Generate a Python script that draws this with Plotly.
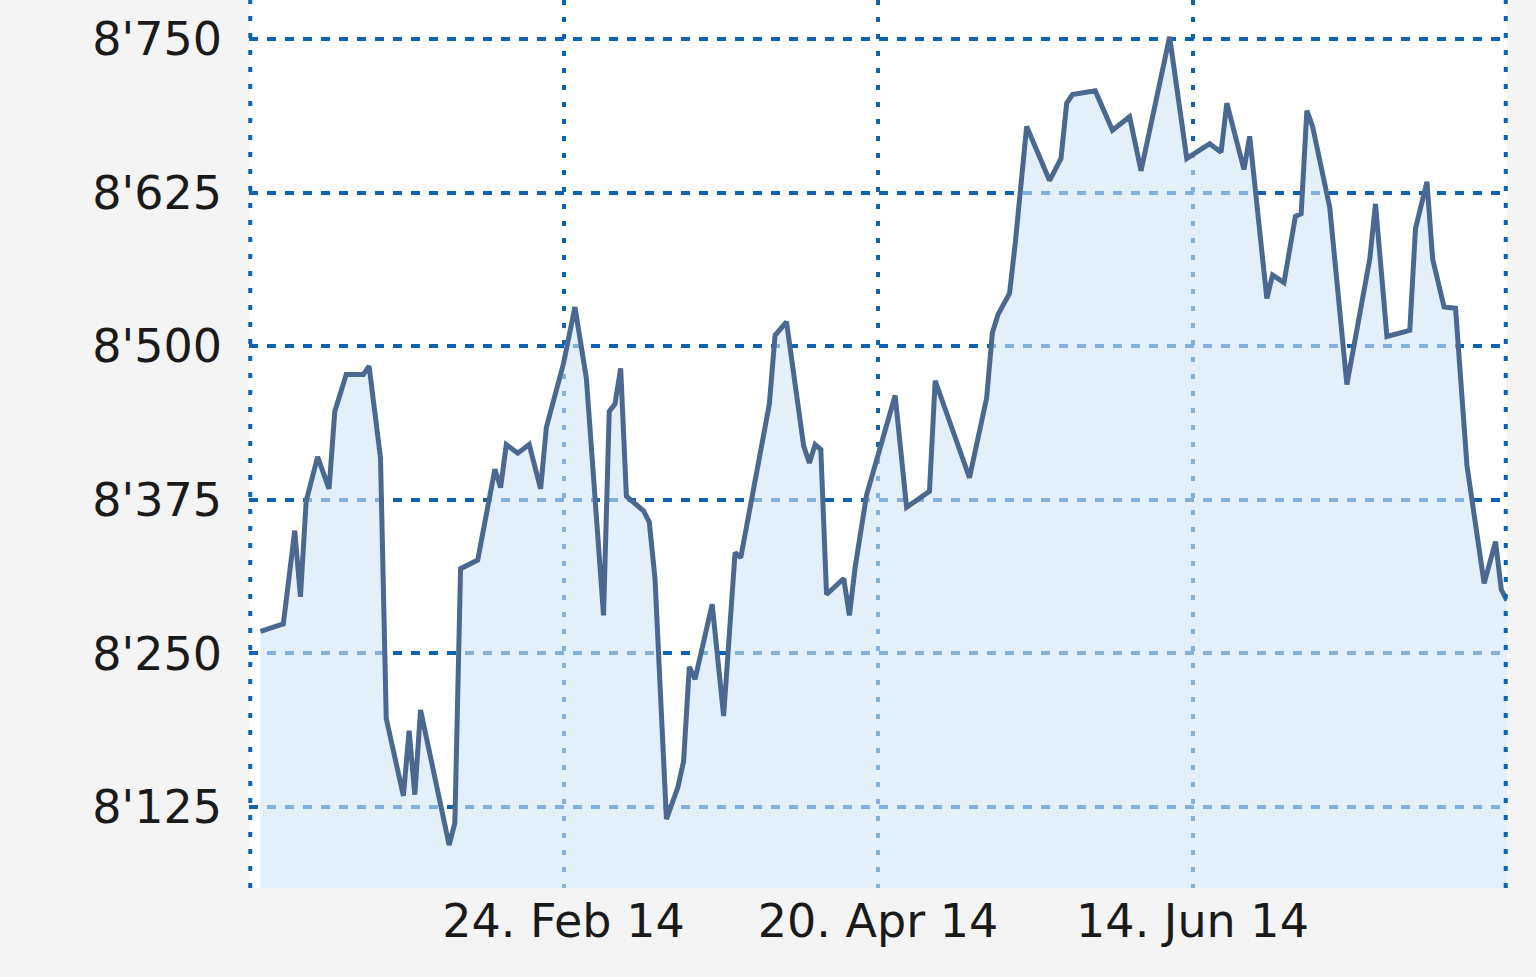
import plotly.graph_objects as go

# index level, Jan - Aug 2014
dates = [
    "2014-01-02", "2014-01-06", "2014-01-08", "2014-01-09", "2014-01-10", "2014-01-12",
    "2014-01-14", "2014-01-15", "2014-01-17", "2014-01-20", "2014-01-21", "2014-01-23",
    "2014-01-24", "2014-01-27", "2014-01-28", "2014-01-29", "2014-01-30", "2014-02-04",
    "2014-02-05", "2014-02-06", "2014-02-09", "2014-02-12", "2014-02-13", "2014-02-14",
    "2014-02-16", "2014-02-18", "2014-02-20", "2014-02-21", "2014-02-24", "2014-02-26",
    "2014-02-28", "2014-03-03", "2014-03-04", "2014-03-05", "2014-03-06", "2014-03-07",
    "2014-03-10", "2014-03-11", "2014-03-12", "2014-03-14", "2014-03-16", "2014-03-17",
    "2014-03-18", "2014-03-19", "2014-03-22", "2014-03-24", "2014-03-26", "2014-03-27",
    "2014-04-01", "2014-04-02", "2014-04-04", "2014-04-07", "2014-04-08", "2014-04-09",
    "2014-04-10", "2014-04-11", "2014-04-14", "2014-04-15", "2014-04-16", "2014-04-18",
    "2014-04-23", "2014-04-25", "2014-04-29", "2014-04-30", "2014-05-06", "2014-05-09",
    "2014-05-10", "2014-05-11", "2014-05-13", "2014-05-14", "2014-05-16", "2014-05-20",
    "2014-05-22", "2014-05-23", "2014-05-24", "2014-05-28", "2014-05-31", "2014-06-03",
    "2014-06-05", "2014-06-10", "2014-06-13", "2014-06-17", "2014-06-19", "2014-06-20",
    "2014-06-23", "2014-06-24", "2014-06-27", "2014-06-28", "2014-06-30", "2014-07-02",
    "2014-07-03", "2014-07-04", "2014-07-05", "2014-07-08", "2014-07-11", "2014-07-15",
    "2014-07-16", "2014-07-18", "2014-07-22", "2014-07-23", "2014-07-25", "2014-07-26",
    "2014-07-28", "2014-07-30", "2014-08-01", "2014-08-04", "2014-08-06", "2014-08-07",
    "2014-08-08",
]
values = [
    8268, 8274, 8350, 8296, 8374, 8410, 8384, 8447, 8477, 8477, 8484, 8409,
    8197, 8134, 8187, 8135, 8204, 8094, 8112, 8319, 8326, 8400, 8385, 8420,
    8413, 8420, 8384, 8434, 8486, 8532, 8474, 8281, 8447, 8453, 8482, 8378,
    8366, 8357, 8311, 8115, 8141, 8162, 8239, 8229, 8290, 8199, 8332, 8328,
    8453, 8509, 8520, 8419, 8405, 8420, 8416, 8298, 8311, 8281, 8320, 8379,
    8460, 8369, 8382, 8472, 8393, 8458, 8511, 8526, 8543, 8584, 8679, 8635,
    8653, 8698, 8705, 8708, 8676, 8687, 8643, 8752, 8653, 8665, 8658, 8698,
    8644, 8671, 8539, 8558, 8552, 8606, 8608, 8692, 8679, 8613, 8469, 8571,
    8616, 8508, 8513, 8596, 8634, 8571, 8532, 8531, 8403, 8307, 8341, 8302,
    8293,
]

# x grid every 55 days, edge lines unlabeled
x_ticks = ["2014-02-24", "2014-04-20", "2014-06-14"]
x_labels = ["24. Feb 14", "20. Apr 14", "14. Jun 14"]
y_ticks = [8125, 8250, 8375, 8500, 8625, 8750]

grid_col = "#0d62b3"
vdots = "5px,12px"

fig = go.Figure()
fig.add_trace(go.Scatter(
    x=dates, y=values, mode="lines",
    line=dict(color="#4a6890", width=5),
    fill="tozeroy", fillcolor="rgba(208,230,245,0.6)",
    hoverinfo="x+y",
))

# dotted lines on the left/right plot edges (plotly skips edge gridlines)
for xe in (0.001, 0.999):
    fig.add_shape(type="line", xref="paper", yref="paper", x0=xe, x1=xe, y0=0, y1=1,
                  line=dict(color=grid_col, width=4, dash=vdots), layer="above")

fig.update_layout(
    width=1536, height=977,
    margin=dict(l=249, r=29, t=0, b=89),
    paper_bgcolor="#f4f4f4", plot_bgcolor="white",
    font=dict(family="DejaVu Sans", size=46, color="#1a1a1a"),
    separators=".'",
    showlegend=False,
)
fig.update_xaxes(
    type="date", range=["2013-12-31", "2014-08-08"],
    tickvals=x_ticks, ticktext=x_labels,
    showgrid=True, gridcolor=grid_col, gridwidth=4, griddash=vdots,
    zeroline=False, showline=False, ticks="", ticklabelstandoff=2,
)
fig.update_yaxes(
    range=[8059, 8782], tickvals=y_ticks, tickformat=",d",
    showgrid=True, gridcolor=grid_col, gridwidth=4, griddash="9px,9px",
    zeroline=False, showline=False, ticks="", ticklabelstandoff=26,
)

# page has a default body margin; drop it so the figure sits at 0,0
fig.write_html("out.html", config={"displayModeBar": False},
               post_script="document.body.style.margin='0';")
